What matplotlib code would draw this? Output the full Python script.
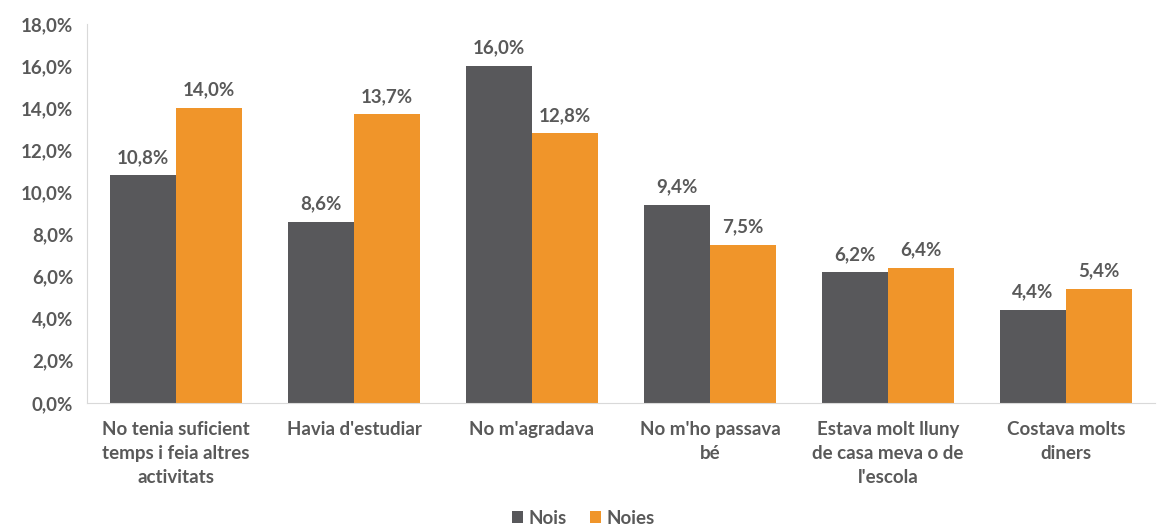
import matplotlib.pyplot as plt
import numpy as np

categories = ["No tenia suficient\ntemps i feia altres\nactivitats",
              "Havia d'estudiar",
              "No m'agradava",
              "No m'ho passava\nbé",
              "Estava molt lluny\nde casa meva o de\nl'escola",
              "Costava molts\ndiners"]
nois = [10.8, 8.6, 16.0, 9.4, 6.2, 4.4]
noies = [14.0, 13.7, 12.8, 7.5, 6.4, 5.4]
y_ticks = [0, 2, 4, 6, 8, 10, 12, 14, 16, 18]

dark = '#58585b'
orange = '#f0952a'
txt = '#595959'

plt.rcParams['font.family'] = ['Lato', 'DejaVu Sans']
plt.rcParams['font.weight'] = 'bold'

fig = plt.figure(figsize=(11.67, 5.28), dpi=100)
ax = fig.add_axes([0.0746, 0.237, 0.915, 0.718])

x = np.arange(len(categories))
w = 0.37
b1 = ax.bar(x - w/2, nois, w, color=dark, label='Nois')
b2 = ax.bar(x + w/2, noies, w, color=orange, label='Noies')

def fmt(v):
    return f"{v:.1f}%".replace('.', ',')

fs = 13.5
for bars, vals in [(b1, nois), (b2, noies)]:
    for r, v in zip(bars, vals):
        ax.text(r.get_x() + r.get_width()/2, v + 0.45, fmt(v), ha='center', va='bottom',
                fontsize=fs, color=txt, fontweight='bold')

ax.set_ylim(0, 18)
ax.set_xlim(-0.5, len(categories) - 0.5)
ax.set_yticks(y_ticks)
ax.set_yticklabels([fmt(t) for t in y_ticks], fontsize=fs, color=txt, fontweight='bold')
ax.set_xticks(x)
ax.set_xticklabels(categories, fontsize=fs, color=txt, fontweight='bold', linespacing=1.5)
ax.tick_params(axis='both', length=0)
ax.tick_params(axis='x', pad=13)
ax.tick_params(axis='y', pad=10)

for s in ['top', 'right']:
    ax.spines[s].set_visible(False)
ax.spines['left'].set_color('#d9d9d9')
ax.spines['bottom'].set_color('#d9d9d9')

leg = fig.legend(loc='lower center', bbox_to_anchor=(0.5, -0.03), ncol=2, frameon=False,
                 fontsize=fs, handlelength=0.6, handleheight=0.6, handletextpad=0.3,
                 columnspacing=1.2)
for t in leg.get_texts():
    t.set_color(txt)

fig.savefig('out.png', dpi=100)
